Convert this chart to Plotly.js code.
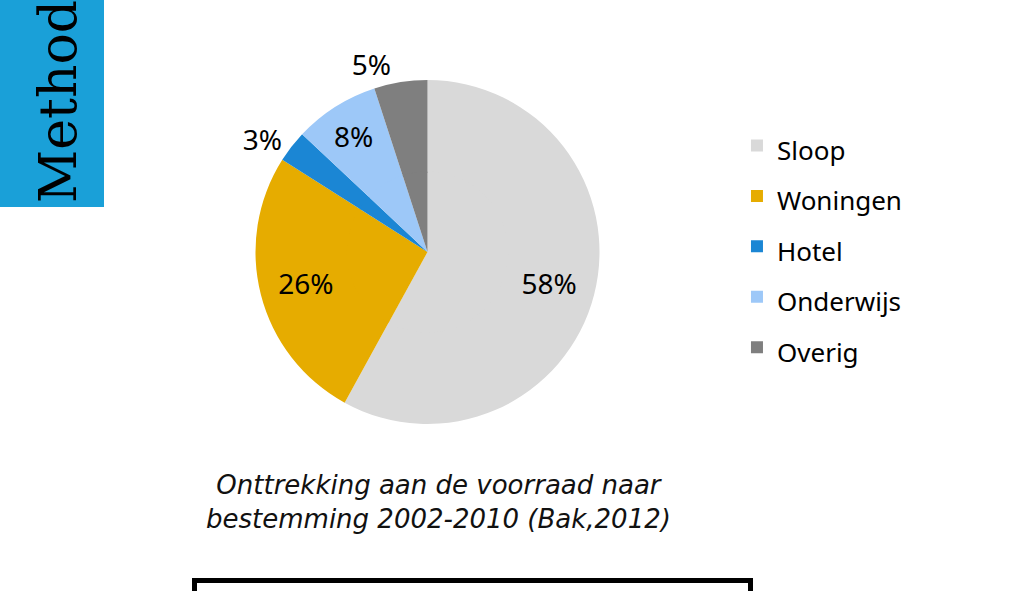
<!DOCTYPE html>
<html>
<head>
<meta charset="utf-8">
<script src="https://cdn.plot.ly/plotly-3.0.1.min.js"></script>
<style>
  html, body { margin: 0; padding: 0; background: #ffffff; }
  #chart { width: 1024px; height: 591px; }
</style>
</head>
<body>
<div id="chart"></div>
<script>
// Data
var categories = ["Sloop", "Woningen", "Hotel", "Onderwijs", "Overig"];
var shares = [58, 26, 3, 8, 5];
var sliceColors = ["#d9d9d9", "#e6ac00", "#1b86d4", "#9dc8f8", "#7f7f7f"];
var labelPositions = ["inside", "inside", "outside", "inside", "outside"];
var captionLines = ["Onttrekking aan de voorraad naar", "bestemming 2002-2010 (Bak,2012)"];
var sideTitle = "Method";

// Pie geometry (pixels in the 1024x591 page)
var W = 1024, H = 591;
var cx = 427.5, cy = 252, R = 172, holeFrac = 0.46;
var Rin = R * holeFrac + 1.5;

function domainFor(radius) {
  return {
    x: [(cx - radius) / W, (cx + radius) / W],
    y: [(H - cy - radius) / H, (H - cy + radius) / H]
  };
}

var legendLabels = categories.map(function (c) {
  return '<span style="font-size:26px">' + c + '</span>';
});

var labelFont = { family: "Noto Sans, sans-serif", size: 28, color: "#000000" };

// outer ring carries the labels and the legend
var outer = {
  type: "pie",
  labels: legendLabels,
  values: shares,
  sort: false,
  direction: "clockwise",
  rotation: 0,
  hole: holeFrac,
  marker: { colors: sliceColors, line: { color: "#ffffff", width: 0 } },
  textinfo: "percent",
  textposition: labelPositions,
  insidetextorientation: "horizontal",
  textfont: labelFont,
  outsidetextfont: labelFont,
  insidetextfont: labelFont,
  hoverinfo: "label+percent",
  domain: domainFor(R)
};

// inner part of the same pie (fills the centre)
var inner = {
  type: "pie",
  labels: legendLabels,
  values: shares,
  sort: false,
  direction: "clockwise",
  rotation: 0,
  marker: { colors: sliceColors, line: { color: "#ffffff", width: 0 } },
  textinfo: "none",
  hoverinfo: "skip",
  showlegend: false,
  domain: domainFor(Rin)
};

var layout = {
  width: W,
  height: H,
  margin: { l: 0, r: 0, t: 0, b: 0, pad: 0 },
  paper_bgcolor: "#ffffff",
  plot_bgcolor: "#ffffff",
  showlegend: true,
  legend: {
    x: 0.7197, xanchor: "left",
    y: 0.805, yanchor: "top",
    font: { family: "Noto Sans, sans-serif", size: 36.5, color: "#000000" },
    bgcolor: "rgba(0,0,0,0)",
    borderwidth: 0,
    itemclick: false
  },
  shapes: [
    { type: "rect", xref: "paper", yref: "paper",
      x0: 0, x1: 104 / W, y0: (H - 207) / H, y1: 1,
      fillcolor: "#1aa0d8", line: { width: 0 }, layer: "below" },
    { type: "rect", xref: "paper", yref: "paper",
      x0: 194.5 / W, x1: 750.5 / W, y0: -0.2, y1: (H - 580.5) / H,
      fillcolor: "rgba(0,0,0,0)", line: { color: "#000000", width: 5 } }
  ],
  annotations: [
    { xref: "paper", yref: "paper", x: 58 / W, y: (H - 102) / H,
      xanchor: "center", yanchor: "middle", textangle: -90, showarrow: false,
      text: sideTitle,
      font: { family: "DejaVu Serif, serif", size: 52, color: "#000000" } },
    { xref: "paper", yref: "paper", x: 438 / W, y: (H - 502) / H,
      xanchor: "center", yanchor: "middle", showarrow: false, align: "center",
      text: "<i>" + captionLines.join("<br>") + "</i>",
      font: { family: "DejaVu Sans, sans-serif", size: 26, color: "#111111" } }
  ]
};

Plotly.newPlot("chart", [outer, inner], layout, { displayModeBar: false, staticPlot: true });
</script>
</body>
</html>
